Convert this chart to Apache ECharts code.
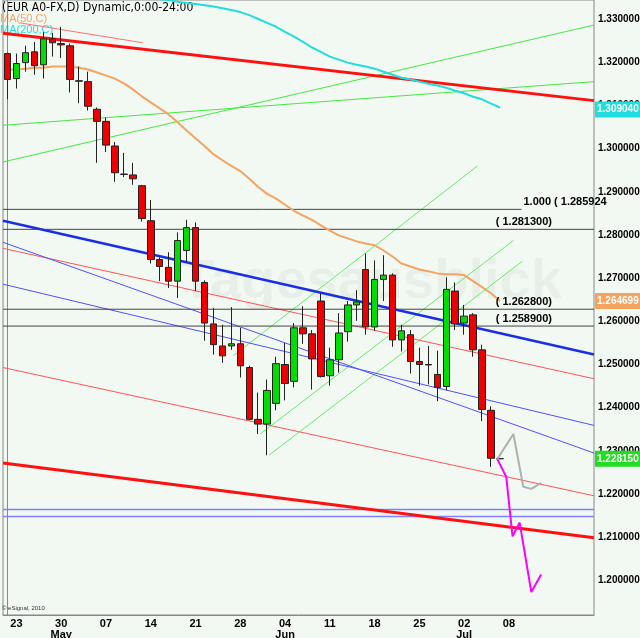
<!DOCTYPE html>
<html><head><meta charset="utf-8">
<script src="https://cdn.jsdelivr.net/npm/echarts@6/dist/echarts.min.js"></script>
<style>html,body{margin:0;padding:0;background:#f2f8f2}#c{width:640px;height:638px}</style>
</head><body><div id="c"></div>
<script>
// ---------- data ----------
const tickLabels = {1:'23',6:'30',11:'07',16:'14',21:'21',26:'28',31:'04',36:'11',41:'18',46:'25',51:'02',56:'08'};
const monthLabels = {6:'May',31:'Jun',51:'Jul'};
const nCats = 66;
// OHLC [open, close, low, high]
const candles = [
[1.3220,1.3160,1.3114,1.3222],[1.3162,1.3197,1.3139,1.3220],[1.3199,1.3222,1.3178,1.3238],[1.3224,1.3192,1.3171,1.3247],
[1.3194,1.3254,1.3162,1.3270],[1.3254,1.3245,1.3213,1.3268],[1.3243,1.3240,1.3210,1.3282],[1.3238,1.3160,1.3130,1.3243],
[1.3157,1.3156,1.3105,1.3190],[1.3155,1.3098,1.3088,1.3178],[1.3091,1.3063,1.2967,1.3095],[1.3063,1.3008,1.2992,1.3072],
[1.3006,1.2944,1.2923,1.3015],[1.2941,1.2940,1.2934,1.2990],[1.2939,1.2930,1.2916,1.2967],[1.2914,1.2838,1.2831,1.2916],
[1.2833,1.2743,1.2734,1.2881],[1.2743,1.2727,1.2693,1.2748],[1.2725,1.2693,1.2677,1.2760],[1.2693,1.2787,1.2654,1.2806],
[1.2764,1.2817,1.2737,1.2835],[1.2817,1.2693,1.2670,1.2829],[1.2690,1.2596,1.2555,1.2695],[1.2594,1.2546,1.2523,1.2631],
[1.2543,1.2520,1.2504,1.2592],[1.2543,1.2548,1.2534,1.2633],[1.2548,1.2497,1.2470,1.2585],[1.2493,1.2373,1.2371,1.2497],
[1.2373,1.2362,1.2339,1.2435],[1.2362,1.2440,1.2290,1.2465],[1.2410,1.2502,1.2394,1.2518],[1.2500,1.2456,1.2417,1.2550],
[1.2461,1.2585,1.2447,1.2596],[1.2585,1.2571,1.2548,1.2635],[1.2571,1.2513,1.2442,1.2580],[1.2647,1.2472,1.2470,1.2665],
[1.2474,1.2511,1.2451,1.2539],[1.2511,1.2573,1.2481,1.2619],[1.2576,1.2638,1.2553,1.2647],[1.2638,1.2645,1.2601,1.2672],
[1.2720,1.2587,1.2569,1.2757],[1.2587,1.2697,1.2578,1.2741],[1.2697,1.2707,1.2647,1.2753],[1.2707,1.2557,1.2541,1.2711],
[1.2557,1.2578,1.2530,1.2592],[1.2569,1.2507,1.2479,1.2580],[1.2507,1.2500,1.2451,1.2539],[1.2500,1.2499,1.2454,1.2543],
[1.2477,1.2447,1.2415,1.2532],[1.2449,1.2674,1.2440,1.2702],[1.2670,1.2594,1.2580,1.2690],[1.2596,1.2612,1.2569,1.2638],
[1.2615,1.2534,1.2518,1.2619],[1.2534,1.2396,1.2369,1.2546],[1.2394,1.2283,1.2263,1.2403],[1.2282,1.2282,1.2282,1.2282]
];
const ma50 = [1.3183,1.3183,1.3185,1.3187,1.3187,1.3190,1.3190,1.3190,1.3187,1.3183,1.3176,1.3169,1.3162,1.3151,1.3137,1.3121,
1.3107,1.3093,1.3079,1.3061,1.3042,1.3024,1.3006,1.2987,1.2973,1.2960,1.2948,1.2930,1.2911,1.2895,1.2884,1.2870,1.2856,1.2845,
1.2835,1.2822,1.2810,1.2799,1.2792,1.2785,1.2780,1.2776,1.2764,1.2750,1.2734,1.2727,1.2720,1.2716,1.2711,1.2709,1.2709,1.2707,
1.2693,1.2679,1.2665,1.2647];
const ma200 = [null,null,null,null,null,null,null,null,null,null,null,null,null,null,null,null,null,
1.3346,1.3344,1.3340,1.3337,1.3335,1.3332,1.3329,1.3325,1.3321,1.3316,1.3309,1.3300,1.3291,1.3282,1.3270,1.3259,1.3247,1.3234,
1.3224,1.3213,1.3206,1.3199,1.3194,1.3190,1.3185,1.3178,1.3171,1.3164,1.3160,1.3155,1.3150,1.3146,1.3141,1.3134,1.3128,1.3120,
1.3114,1.3104,1.3095];
// trend lines: [[x-index, price], ...]
const redThickTop = [[-0.5,1.3267],[65.5,1.3111]];
const redThinTop = [[1.4,1.3291],[15.1,1.3245]];
const greenA = [[-0.5,1.2969],[65.5,1.3286]];
const greenB = [[-0.5,1.3054],[65.5,1.3155]];
const blueThick = [[-0.5,1.2833],[65.5,1.2523]];
const blueC = [[-0.5,1.2783],[65.5,1.2295]];
const blueD = [[-0.5,1.2686],[65.5,1.2359]];
const redE = [[-0.5,1.2769],[65.5,1.2467]];
const redF = [[-0.5,1.2493],[65.5,1.2196]];
const redThickLow = [[-0.5,1.2272],[65.5,1.2099]];
const blueH1 = [[-0.5,1.2164],[65.5,1.2164]];
const blueH2 = [[-0.5,1.2148],[65.5,1.2148]];
const greenP = [[25.2,1.2520],[52.5,1.2960]];
const greenQ = [[28.2,1.2339],[56.5,1.2787]];
const greenR = [[29.2,1.2290],[57.5,1.2739]];
const grayProj = [[54.7,1.2281],[56.5,1.2339],[57.6,1.2217],[58.5,1.2212],[59.6,1.2226]];
const magentaProj = [[54.7,1.2281],[55.7,1.2240],[56.4,1.2102],[57.2,1.2134],[58.5,1.1973],[59.6,1.2014]];
const hLevels = [{v:1.285924,to:57.4,text:'1.000 ( 1.285924'},{v:1.2813,to:65.5,text:'( 1.281300)'},
                 {v:1.2628,to:65.5,text:'( 1.262800)'},{v:1.2589,to:65.5,text:'( 1.258900)'}];
const tags = [{v:1.309040,bg:'#22dddd',t:'1.309040'},{v:1.264699,bg:'#f4a460',t:'1.264699'},{v:1.228150,bg:'#22dd22',t:'1.228150'}];

// ---------- chart ----------
const cats = []; for (let i=0;i<nCats;i++) cats.push('d'+i);
const chart = echarts.init(document.getElementById('c'));
function ln(data, color, width, z){ return {type:'line', xAxisIndex:1, data, symbol:'none', silent:true, z:z||2,
  lineStyle:{color, width}}; }
const series = [
  ln(greenA,'#44e844',1), ln(greenB,'#44e844',1), ln(greenP,'#66ee66',1), ln(greenQ,'#66ee66',1), ln(greenR,'#66ee66',1),
  ln(redE,'#ff5555',1), ln(redF,'#ff5555',1), ln(redThinTop,'#ff7070',1),
  ln(blueC,'#5050ff',1), ln(blueD,'#5050ff',1), ln(blueH1,'#8080ff',1.5), ln(blueH2,'#8080ff',1.5),
  ln(blueThick,'#1a2ee6',2.5), ln(redThickTop,'#ff1010',3), ln(redThickLow,'#ff1010',3),
];
hLevels.forEach(h=>series.push(ln([[-0.5,h.v],[h.to,h.v]],'#444',1)));
series.push({type:'line', data:ma50, symbol:'none', lineStyle:{color:'#f4a460',width:2}, z:3});
series.push({type:'line', data:ma200, symbol:'none', lineStyle:{color:'#22dddd',width:2}, z:3});
series.push({type:'candlestick', data:candles, barWidth:7, z:5,
  itemStyle:{color:'#00dd00', color0:'#ee0000', borderColor:'#222', borderColor0:'#222', borderWidth:1}});
series.push(ln(grayProj,'#b0b0b0',2,6));
series.push(ln(magentaProj,'#ff00ff',2,6));

const axisFont = 'Liberation Sans Narrow, Liberation Sans';
chart.setOption({
  animation:false, backgroundColor:'#f2f8f2',
  grid:{left:3, top:0, width:591, height:615, outerBoundsMode:'none', containLabel:false, show:true, borderColor:'#888', backgroundColor:'#f2f8f2'},
  xAxis:[{type:'category', data:cats, boundaryGap:true,
      axisLine:{lineStyle:{color:'#888'}},
      axisTick:{interval:(i)=>tickLabels[i]!==undefined, length:4, alignWithLabel:true, lineStyle:{color:'#444'}},
      axisLabel:{interval:0, margin:3, color:'#000', fontSize:11, fontFamily:axisFont, fontWeight:'bold', lineHeight:11,
        formatter:(v,i)=>tickLabels[i]?(tickLabels[i]+(monthLabels[i]?'\n'+monthLabels[i]:'')):''}},
    {type:'value', min:-0.5, max:65.5, show:false}],
  yAxis:{type:'value', position:'right', min:1.192, max:1.3344, splitNumber:14, scale:true,
    axisLine:{show:true, lineStyle:{color:'#888'}}, axisTick:{show:false}, splitLine:{show:false},
    axisLabel:{color:'#000', fontSize:10, fontFamily:axisFont, fontWeight:'bold', margin:4, showMaxLabel:false, showMinLabel:false,
      formatter:v=>v.toFixed(6)}},
  series
});

const g = [];
g.push({type:'text', left:180, top:255, z:1, style:{text:'Tagesausblick', font:'bold 56px Liberation Sans', fill:'rgba(0,0,0,0.04)'}});
g.push({type:'text', left:2, top:2, style:{text:'(EUR A0-FX,D) Dynamic,0:00-24:00', font:'12px DejaVu Sans Condensed, Liberation Sans', fill:'#000'}});
g.push({type:'text', left:0, top:13, style:{text:'MA(50,C)', font:'11px Liberation Sans', fill:'#f4a460'}});
g.push({type:'text', left:0, top:24, style:{text:'MA(200,C)', font:'11px Liberation Sans', fill:'#22dddd'}});
g.push({type:'text', left:2, top:605, style:{text:'© eSignal, 2010', font:'6px Liberation Sans', fill:'#333'}});
hLevels.forEach(h=>{
  const px = chart.convertToPixel({xAxisIndex:1, yAxisIndex:0},[h.to,h.v]);
  const right = h.to>60 ? 552 : px[0]+2;
  g.push({type:'text', x: right, y: px[1]-2, style:{text:h.text, font:'bold 11px '+axisFont, fill:'#000',
    align: h.to>60?'right':'left', verticalAlign:'bottom'}, z:20});
});
tags.forEach(t=>{
  const y = chart.convertToPixel({yAxisIndex:0}, t.v);
  g.push({type:'rect', shape:{x:595, y:y-8, width:45, height:16}, style:{fill:t.bg}, z:20});
  g.push({type:'text', x:597, y:y, style:{text:t.t, font:'bold 10px '+axisFont, fill:'#fff', verticalAlign:'middle'}, z:21});
});
chart.setOption({graphic:g});
</script></body></html>
